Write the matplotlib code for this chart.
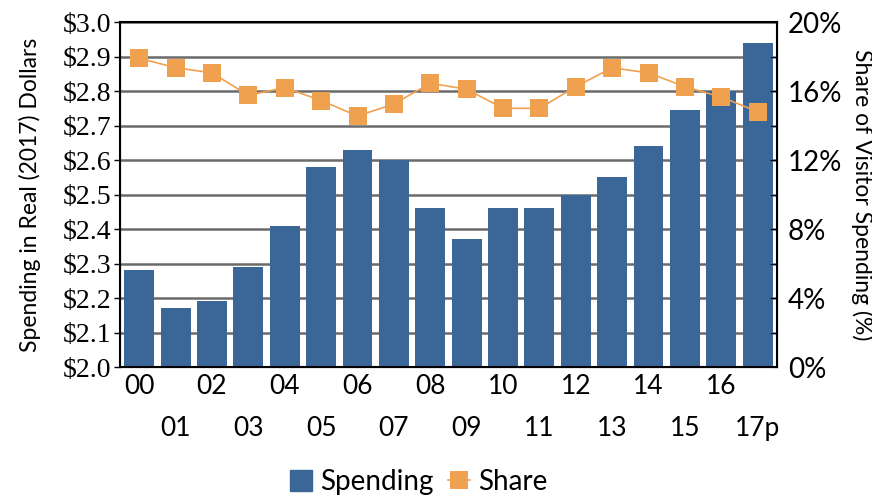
import matplotlib.pyplot as plt
from matplotlib.lines import Line2D
from matplotlib.patches import Patch
import numpy as np

years = ["00", "01", "02", "03", "04", "05", "06", "07", "08",
         "09", "10", "11", "12", "13", "14", "15", "16", "17p"]
spending = [2.28, 2.17, 2.19, 2.29, 2.41, 2.58, 2.63, 2.60, 2.46,
            2.37, 2.46, 2.46, 2.50, 2.55, 2.64, 2.745, 2.80, 2.94]
share = [17.9, 17.35, 17.05, 15.75, 16.2, 15.45, 14.55, 15.25, 16.45,
         16.1, 15.0, 15.0, 16.25, 17.35, 17.05, 16.25, 15.65, 14.8]

bar_col = "#3b6698"
line_col = "#f0a150"
sans = "Lato"
serif = "Liberation Serif"

fig = plt.figure(figsize=(8.72, 4.98), dpi=100)
ax = fig.add_axes([0.1376, 0.263, 0.7534, 0.6928])
x = np.arange(len(years))

ax.bar(x, spending, width=0.82, color=bar_col, zorder=2)
ax.set_xlim(-0.53, len(years) - 0.47)
ax.set_ylim(2.0, 3.0)
ax.set_yticks(np.arange(2.0, 3.01, 0.1))
ax.set_yticklabels([f"${v:.1f}" for v in np.arange(2.0, 3.01, 0.1)],
                   fontsize=20, family=serif)
ax.grid(axis="y", color="#6a6a6a", linewidth=1.8, zorder=0)
ax.tick_params(axis="y", length=4, width=1, pad=2)
ax.set_ylabel("Spending in Real (2017) Dollars", fontsize=16.5, family=sans, labelpad=16)

labels = [y if i % 2 == 0 else "\n" + y for i, y in enumerate(years)]
ax.set_xticks(x)
ax.set_xticklabels(labels, fontsize=19, family=sans, linespacing=1.85)
ax.tick_params(axis="x", length=0, pad=5)
for s in ax.spines.values():
    s.set_linewidth(1.5)
    s.set_color("black")

ax2 = ax.twinx()
ax2.plot(x, share, color=line_col, linewidth=1.2, marker="s", markersize=13,
         markeredgewidth=0, zorder=3)
ax2.set_ylim(0, 20)
ax2.set_yticks(np.arange(0, 21, 4))
ax2.set_yticklabels([f"{v}%" for v in range(0, 21, 4)], fontsize=20, family=sans)
ax2.set_yticks(np.arange(0, 21, 2), minor=True)
ax2.tick_params(axis="y", which="both", direction="in", length=5, pad=8)
ax2.set_ylabel("Share of Visitor Spending (%)", fontsize=16.5, family=sans,
               rotation=270, labelpad=22)

handles = [Patch(color=bar_col, label="Spending"),
           Line2D([], [], color=line_col, marker="s", markersize=13,
                  markeredgewidth=0, linewidth=1.2, label="Share")]
fig.legend(handles=handles, loc="lower center", bbox_to_anchor=(0.48, -0.045),
           ncol=2, frameon=False, prop={"family": sans, "size": 20},
           handlelength=0.8, handleheight=0.8, handletextpad=0.3, columnspacing=0.5)

fig.savefig("out.png", dpi=100)
